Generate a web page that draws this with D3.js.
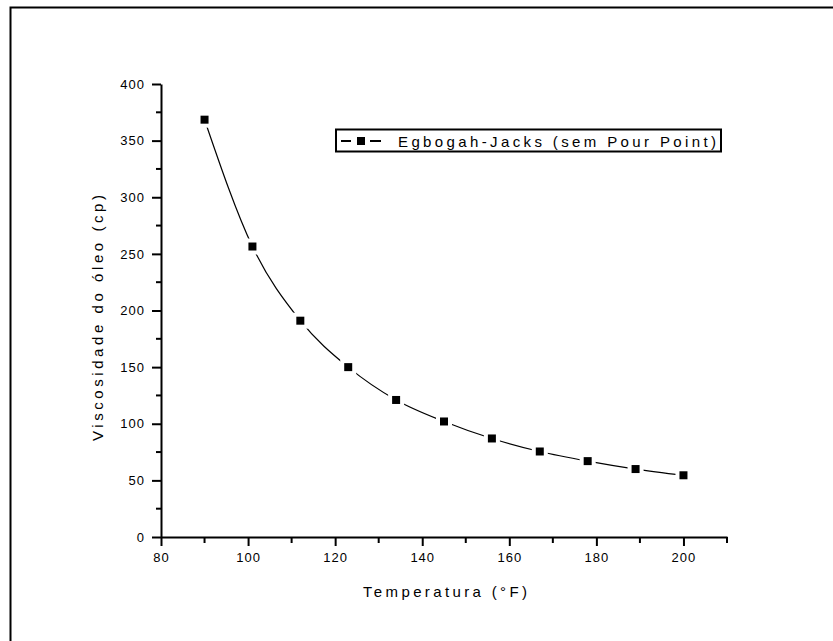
<!DOCTYPE html>
<html>
<head>
<meta charset="utf-8">
<script src="https://cdn.jsdelivr.net/npm/d3@7"></script>
<style>
  body { margin: 0; background: #fff; }
  text { font-family: "Liberation Sans", Arial, sans-serif; fill: #000; }
</style>
</head>
<body>
<div id="chart"></div>
<script>
// data
const temps = [90, 101, 112, 123, 134, 145, 156, 167, 178, 189, 200];
const viscosity = [368.5, 256.5, 191, 150, 121, 102, 87, 75.5, 67, 60, 54.5];
const xTicks = [80, 100, 120, 140, 160, 180, 200];
const yTicks = [0, 50, 100, 150, 200, 250, 300, 350, 400];
const seriesName = "Egbogah-Jacks (sem Pour Point)";

const W = 833, H = 641;
const svg = d3.select("#chart").append("svg")
  .attr("width", W).attr("height", H);

// outer frame (only top and left show inside the picture)
svg.append("rect")
  .attr("x", 10.5).attr("y", 7.5)
  .attr("width", 860).attr("height", 700)
  .attr("fill", "none").attr("stroke", "#000").attr("stroke-width", 2);

const x = d3.scaleLinear().domain([80, 210]).range([161, 727]);
const y = d3.scaleLinear().domain([0, 400]).range([537, 84]);

// minor ticks
svg.append("g").selectAll("line")
  .data(d3.range(90, 211, 20))
  .join("line")
  .attr("x1", d => x(d)).attr("x2", d => x(d))
  .attr("y1", 537).attr("y2", 543)
  .attr("stroke", "#000").attr("stroke-width", 2);
svg.append("g").selectAll("line")
  .data(d3.range(25, 400, 50))
  .join("line")
  .attr("x1", 156).attr("x2", 161)
  .attr("y1", d => y(d)).attr("y2", d => y(d))
  .attr("stroke", "#000").attr("stroke-width", 2);

// x axis
const gx = svg.append("g").attr("transform", "translate(0,537)")
  .call(d3.axisBottom(x).tickValues(xTicks).tickSizeInner(9).tickSizeOuter(0).tickPadding(7));
gx.select(".domain").attr("stroke-width", 2);
gx.selectAll(".tick line").attr("stroke-width", 2);
gx.selectAll(".tick text")
  .attr("font-size", 13).attr("letter-spacing", 1)
  .attr("font-family", "Liberation Sans, Arial, sans-serif");

// y axis
const gy = svg.append("g").attr("transform", "translate(161,0)")
  .call(d3.axisLeft(y).tickValues(yTicks).tickSizeInner(9).tickSizeOuter(0).tickPadding(7));
gy.select(".domain").attr("stroke-width", 2);
gy.selectAll(".tick line").attr("stroke-width", 2);
gy.selectAll(".tick text")
  .attr("font-size", 13).attr("letter-spacing", 1)
  .attr("font-family", "Liberation Sans, Arial, sans-serif");

// axis titles
svg.append("text")
  .attr("x", 363).attr("y", 597)
  .attr("font-size", 15)
  .attr("textLength", 164).attr("lengthAdjust", "spacing")
  .text("Temperatura (°F)");

svg.append("text")
  .attr("transform", "translate(103,441) rotate(-90)")
  .attr("font-size", 15)
  .attr("textLength", 246).attr("lengthAdjust", "spacing")
  .text("Viscosidade do óleo (cp)");

// fitted curve
const pts = temps.map((t, i) => [t, viscosity[i]]);
svg.append("path")
  .datum(pts)
  .attr("fill", "none")
  .attr("stroke", "#000")
  .attr("stroke-width", 1.2)
  .attr("d", d3.line()
    .x(d => x(d[0]))
    .y(d => y(d[1]))
    .curve(d3.curveMonotoneX));

// markers with a white halo so the line stops short of them
const mk = svg.append("g");
mk.selectAll("rect.halo")
  .data(pts).join("rect")
  .attr("class", "halo")
  .attr("x", d => x(d[0]) - 8).attr("y", d => y(d[1]) - 8)
  .attr("width", 16).attr("height", 16)
  .attr("fill", "#fff");
mk.selectAll("rect.pt")
  .data(pts).join("rect")
  .attr("class", "pt")
  .attr("x", d => x(d[0]) - 4).attr("y", d => y(d[1]) - 4)
  .attr("width", 8).attr("height", 8)
  .attr("fill", "#000");

// legend
const lg = svg.append("g");
lg.append("rect")
  .attr("x", 336).attr("y", 129.5)
  .attr("width", 385).attr("height", 22)
  .attr("fill", "#fff").attr("stroke", "#000").attr("stroke-width", 2);
lg.append("line")
  .attr("x1", 341).attr("x2", 351).attr("y1", 141).attr("y2", 141)
  .attr("stroke", "#000").attr("stroke-width", 2);
lg.append("line")
  .attr("x1", 370).attr("x2", 381).attr("y1", 141).attr("y2", 141)
  .attr("stroke", "#000").attr("stroke-width", 2);
lg.append("rect")
  .attr("x", 357).attr("y", 137).attr("width", 8).attr("height", 8)
  .attr("fill", "#000");
lg.append("text")
  .attr("x", 398).attr("y", 146.5)
  .attr("font-size", 15)
  .attr("textLength", 318).attr("lengthAdjust", "spacing")
  .text(seriesName);
</script>
</body>
</html>
